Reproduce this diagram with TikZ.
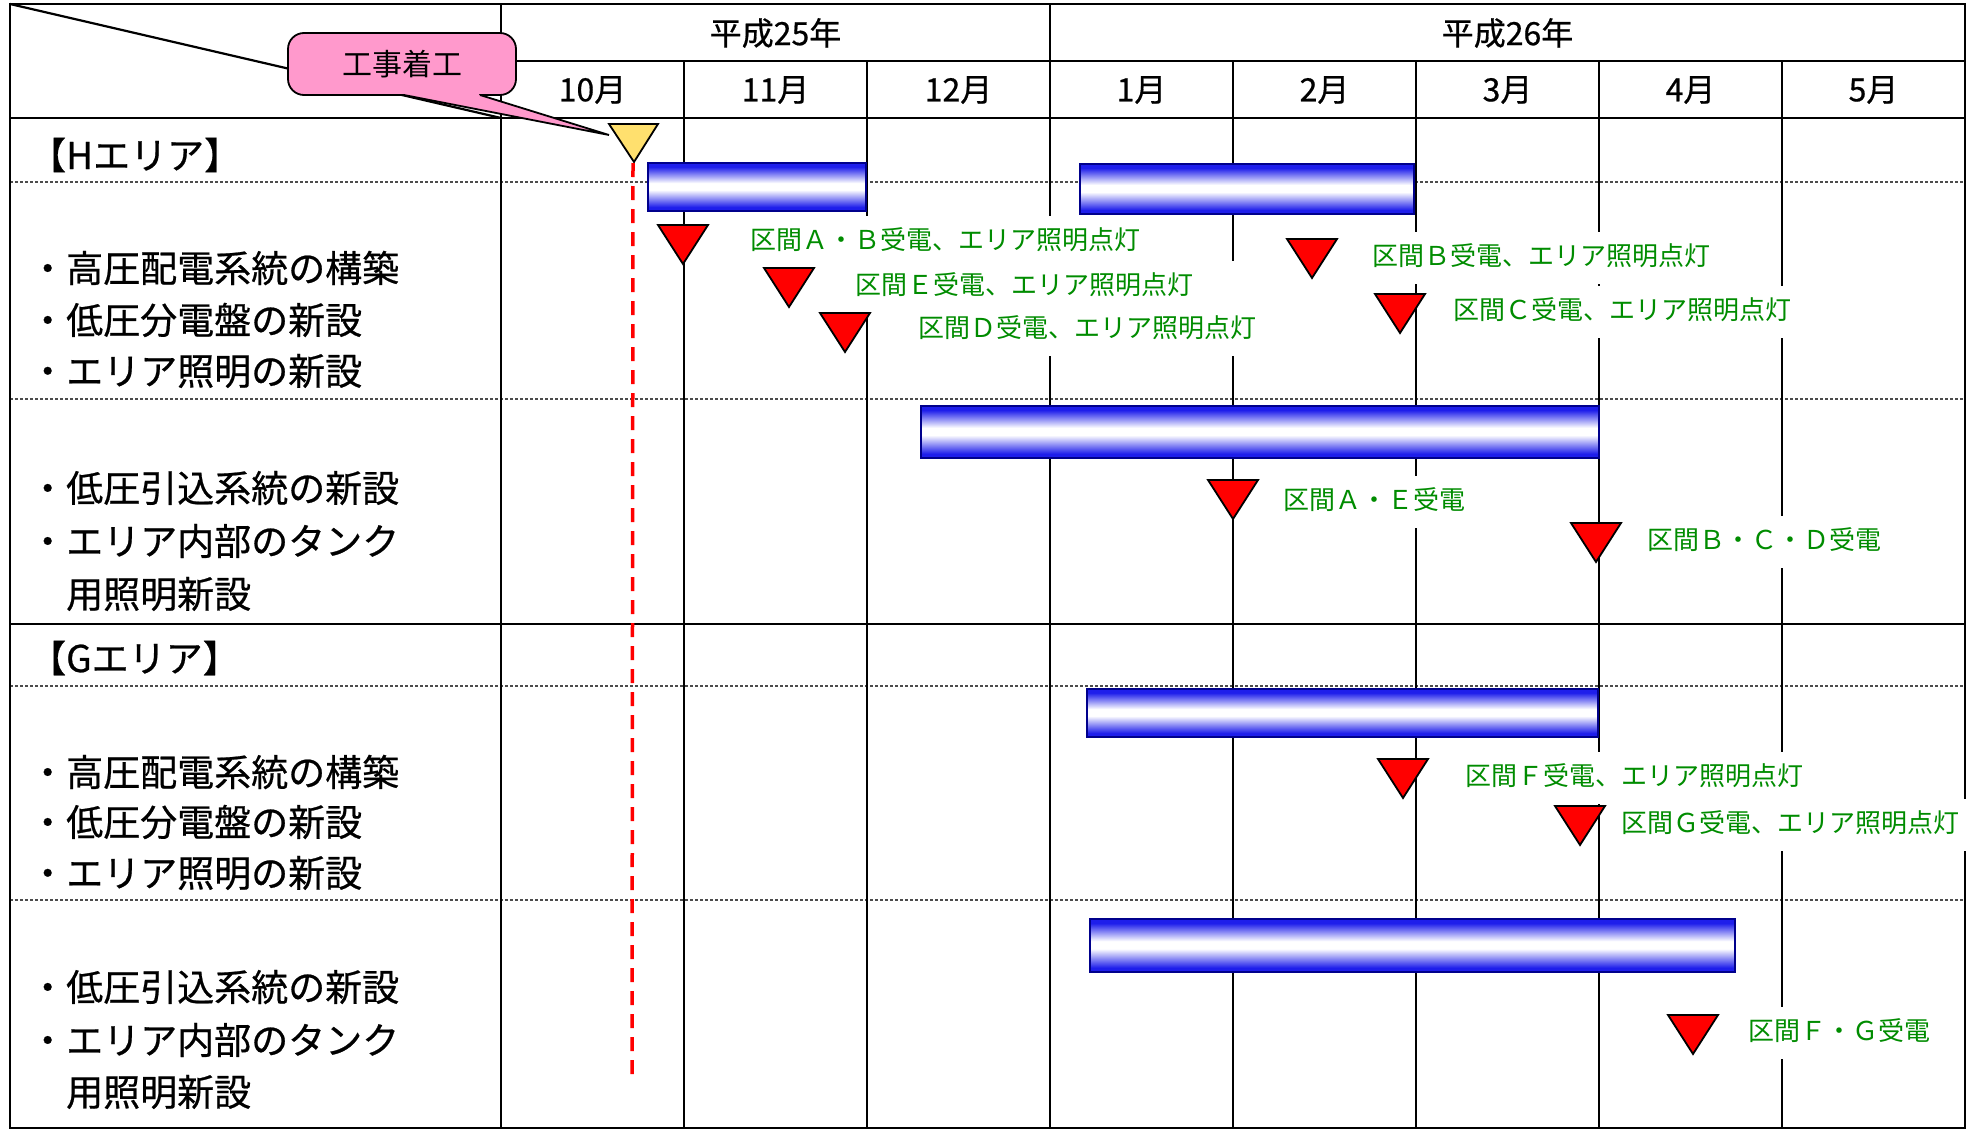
\documentclass[tikz,border=0pt]{standalone}
\usepackage{fontspec}
\setmainfont{Noto Sans CJK JP}
\newfontfamily\heavyfont{Noto Sans CJK JP}[FakeBold=0.6]
\definecolor{calpink}{RGB}{255,153,204}
\definecolor{startyellow}{RGB}{255,224,110}
\definecolor{lblgreen}{RGB}{0,140,0}
\definecolor{barnavy}{RGB}{0,0,140}
\definecolor{barblue}{RGB}{30,30,235}
\pgfdeclareverticalshading{barshade}{100bp}{color(0bp)=(barblue); color(25bp)=(barblue); color(29bp)=(barblue); color(47bp)=(white); color(54bp)=(white); color(71bp)=(barblue); color(75bp)=(barblue); color(100bp)=(barblue)}
\begin{document}
\begin{tikzpicture}[x=1pt,y=-1pt,
  grid/.style={line width=2.6pt, black},
  dotline/.style={line width=1.6pt, black!70, dash pattern=on 3pt off 2pt},
  bar/.style={draw=barnavy, line width=2.5pt, shading=barshade},
  lbl/.style={fill=white, text=lblgreen, font=\fontsize{26}{30}\selectfont, inner xsep=10pt, inner ysep=13pt, text height=20.8pt, text depth=5.2pt, anchor=west},
  rowtxt/.style={font=\heavyfont\fontsize{37}{44}\selectfont, anchor=west, inner sep=0pt},
  hdr/.style={font=\heavyfont\fontsize{32}{38}\selectfont, inner sep=0pt},
  redtri/.pic={\draw[fill=red, line width=1.8pt] (-25,-39) -- (25,-39) -- (0,0) -- cycle;}
]
\useasboundingbox (0,0) rectangle (1983,1132);
\fill[white] (0,0) rectangle (1983,1132);

% dotted separators
\foreach \yy in {182,399,686,900} \draw[dotline] (10,\yy) -- (1965,\yy);

% grid
\draw[grid] (10,4) rectangle (1965,1128);
\draw[grid] (501,61) -- (1965,61);
\draw[grid] (10,118) -- (1965,118);
\draw[grid] (10,624) -- (1965,624);
\draw[grid] (501,4) -- (501,1128);
\draw[grid] (1050,4) -- (1050,1128);
\foreach \xx in {684,867,1233,1416,1599,1782} \draw[grid] (\xx,61) -- (\xx,1128);
\draw[line width=2.2pt] (10,4) -- (501,118);

% header texts
\node[hdr] (y25) at (775.5,33) {平成25年};
\node[hdr] (y26) at (1507.5,33) {平成26年};
\node[hdr] (m10) at (592.5,90) {10月};
\node[hdr] (m11) at (775.5,90) {11月};
\node[hdr] (m12) at (958.5,90) {12月};
\node[hdr] (m1) at (1141.5,90) {1月};
\node[hdr] (m2) at (1324.5,90) {2月};
\node[hdr] (m3) at (1507.5,90) {3月};
\node[hdr] (m4) at (1690.5,90) {4月};
\node[hdr] (m5) at (1873.5,90) {5月};

% row texts
\node[rowtxt] (harea) at (29,155) {【Hエリア】};
\node[rowtxt] (ha1) at (29,268) {・高圧配電系統の構築};
\node[rowtxt] (ha2) at (29,320) {・低圧分電盤の新設};
\node[rowtxt] (ha3) at (29,371) {・エリア照明の新設};
\node[rowtxt] (hb1) at (29,488) {・低圧引込系統の新設};
\node[rowtxt] (hb2) at (29,541) {・エリア内部のタンク};
\node[rowtxt] (hb3) at (66,594) {用照明新設};
\node[rowtxt] (garea) at (29,658) {【Gエリア】};
\node[rowtxt] (ga1) at (29,772) {・高圧配電系統の構築};
\node[rowtxt] (ga2) at (29,822) {・低圧分電盤の新設};
\node[rowtxt] (ga3) at (29,873) {・エリア照明の新設};
\node[rowtxt] (gb1) at (29,987) {・低圧引込系統の新設};
\node[rowtxt] (gb2) at (29,1040) {・エリア内部のタンク};
\node[rowtxt] (gb3) at (66,1092) {用照明新設};

% callout
\node[draw, line width=1.8pt, fill=calpink, rounded corners=16pt, minimum width=228pt, minimum height=62pt, inner sep=0pt, font=\fontsize{30}{36}\selectfont] (callout) at (402,64) {工事着工};
\fill[calpink] (405,90) -- (405,95) -- (609,135) -- (479,95) -- (479,90) -- cycle;
\draw[line width=1.8pt, line join=miter] (404,95) -- (609,135) -- (480,95);

% start marker
\draw[fill=startyellow, line width=1.8pt] (609,124) -- (658,124) -- (634,162) -- cycle;

% bars
\draw[bar] (648,163) rectangle (866,211);
\draw[bar] (1080,164) rectangle (1414,214);
\draw[bar] (921,406) rectangle (1599,458);
\draw[bar] (1087,689) rectangle (1598,737);
\draw[bar] (1090,919) rectangle (1735,972);

% labels
\node[lbl] (l1) at (740,242) {区間Ａ・Ｂ受電、エリア照明点灯};
\node[lbl, text width=375pt, align=left] (l2) at (845,287) {区間Ｅ受電、エリア照明点灯};
\node[lbl] (l3) at (908,330) {区間Ｄ受電、エリア照明点灯};
\node[lbl] (l4) at (1362,258) {区間Ｂ受電、エリア照明点灯};
\node[lbl] (l5) at (1443,312) {区間Ｃ受電、エリア照明点灯};
\node[lbl] (l6) at (1273,502) {区間Ａ・Ｅ受電};
\node[lbl] (l7) at (1637,542) {区間Ｂ・Ｃ・Ｄ受電};
\node[lbl] (l8) at (1455,778) {区間Ｆ受電、エリア照明点灯};
\node[lbl] (l9) at (1611,825) {区間Ｇ受電、エリア照明点灯};
\node[lbl] (l10) at (1738,1033) {区間Ｆ・Ｇ受電};

% milestone triangles
\foreach \tx/\ty in {683/264, 789/307, 845/352, 1312/278, 1400/333, 1233/519, 1596/562, 1403/798, 1580/845, 1693/1054}
  \pic at (\tx,\ty) {redtri};

% start dashed line
\draw[red, line width=3.5pt, dash pattern=on 14pt off 9pt] (633,163) -- (632,1075);
\end{tikzpicture}
\end{document}
